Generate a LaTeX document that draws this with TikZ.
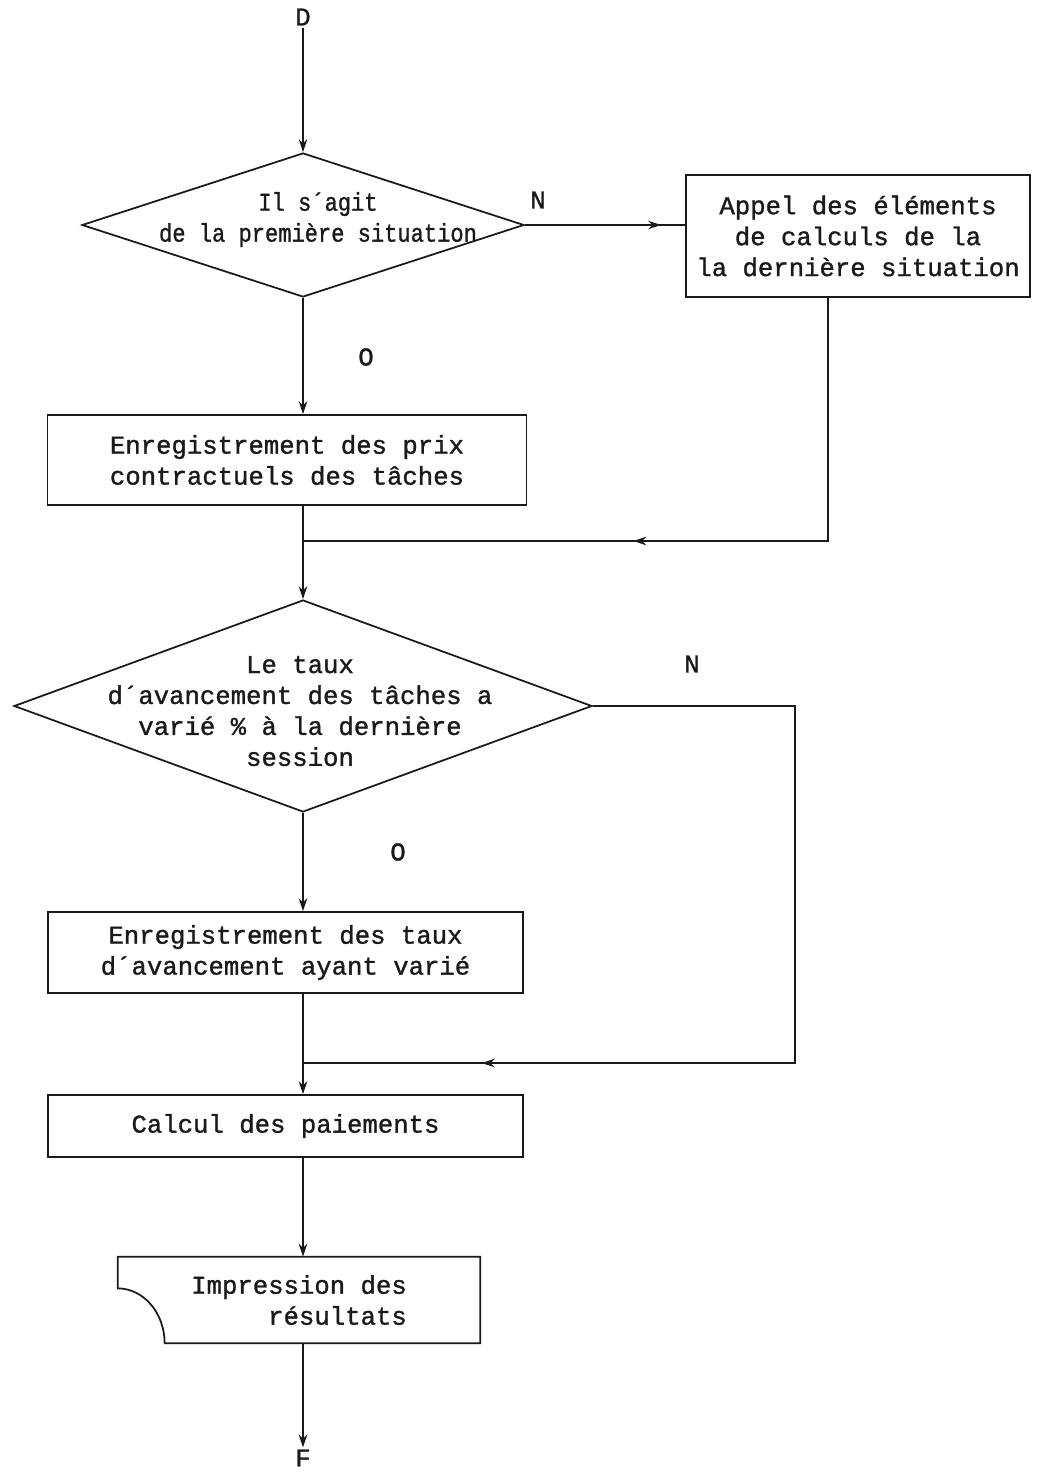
\documentclass[tikz,border=0pt]{standalone}
\usepackage{fontspec}
\setmonofont{Liberation Mono}[FakeBold=1.2]
\usetikzlibrary{shapes.geometric, arrows.meta, positioning, calc, decorations.markings}
\usepackage{xcolor}
\definecolor{inkblack}{HTML}{1a1a1a}
\newcommand{\narrowtext}[1]{\scalebox{0.86}[1]{\begin{tabular}{@{}c@{}}#1\end{tabular}}}
\tikzset{
  chartfont/.style={font=\ttfamily\fontsize{14.6}{17.6}\selectfont, text=inkblack},
  procbox/.style={rectangle, draw=inkblack, line width=1pt, inner sep=2pt,
                  align=center},
  decbox/.style={diamond, draw=inkblack, line width=1pt, inner sep=0pt},
  printbox/.style={rectangle, inner sep=0pt, align=right},
  termtext/.style={inner sep=1pt},
  linklabel/.style={inner sep=1pt},
  flow/.style={line width=1pt, draw=inkblack},
  link/.style={-{Stealth[length=2.6mm,width=1.7mm]}, line width=1pt, draw=inkblack},
  midarrow/.style={postaction={decorate},
                   decoration={markings, mark=at position #1 with {\arrow{Stealth[length=2.6mm,width=1.7mm]}}}},
}

\begin{document}
\begin{tikzpicture}[x=0.2mm, y=-0.2mm, every node/.style={chartfont}]
  \useasboundingbox (0,0) rectangle (1039,1473);

  \node[termtext] (start) at (303,17) {D};

  \node[decbox, minimum width=88.4mm, minimum height=28.8mm] (q1) at (303,225) {};
  \node (q1txt) at (318,220) {\narrowtext{Il s´agit\\de la première situation}};

  \node[procbox, minimum width=68.8mm, minimum height=24.4mm] (appel) at (858,236)
        {Appel des éléments\\de calculs de la\\la dernière situation};

  \node[procbox, minimum width=95.8mm, minimum height=18mm] (prix) at (287,460)
        {Enregistrement des prix\\contractuels des tâches};

  \node[decbox, minimum width=115.6mm, minimum height=42.4mm] (q2) at (303,706) {};
  \node[align=center] (q2txt) at (300,711)
        {Le taux\\d´avancement des tâches a\\varié \% à la dernière\\session};

  \node[procbox, minimum width=95mm, minimum height=16.2mm] (taux) at (285.5,952.5)
        {Enregistrement des taux\\d´avancement ayant varié};

  \node[procbox, minimum width=95mm, minimum height=12.4mm] (calc) at (285.5,1126)
        {Calcul des paiements};

  \node[printbox, minimum width=72.4mm, minimum height=17.2mm] (impr) at (299,1300)
        {Impression des\\résultats};

  \node[termtext] (stop) at (303,1458) {F};

  % branch labels
  \node[linklabel] (n1) at (538,200) {N};
  \node[linklabel] (o1) at (366,357) {O};
  \node[linklabel] (n2) at (692,664) {N};
  \node[linklabel] (o2) at (398,852) {O};

  \coordinate (j1) at (303,541);
  \coordinate (j2) at (303,1063);
  \coordinate (c2) at (795,700);

  \draw[flow] (impr.north west) -- (impr.north east) -- (impr.south east)
        -- ([xshift=9.4mm]impr.south west)
        arc[start angle=0, end angle=90, x radius=9.4mm, y radius=11mm] -- cycle;

  \draw[link] (start) -- (q1.north);
  \draw[flow, midarrow=0.85] (q1.east) -- (q1.east -| appel.west);
  \draw[link] (q1.south) -- (prix.north -| q1.south);
  \draw[flow, midarrow=0.57] ([xshift=-6mm]appel.south) |- (j1);
  \draw[link] (prix.south -| q2.north) -- (q2.north);
  \draw[link] (q2.south) -- (taux.north -| q2.south);
  \draw[flow, midarrow=0.83] (q2.east) -- (q2.east -| c2) |- (j2);
  \draw[link] (taux.south -| q2.south) -- (calc.north -| q2.south);
  \draw[link] (calc.south -| q2.south) -- (impr.north -| q2.south);
  \draw[link] (impr.south -| q2.south) -- (stop.north);
\end{tikzpicture}
\end{document}
